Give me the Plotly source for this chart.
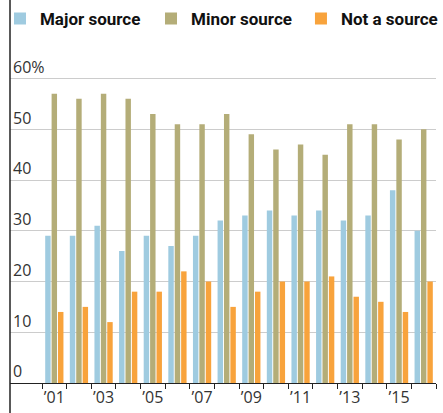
import plotly.graph_objects as go

years = [str(y) for y in range(2001, 2017)]
tick_labels = ["\u201901", "", "\u201903", "", "\u201905", "", "\u201907", "",
               "\u201909", "", "\u201911", "", "\u201913", "", "\u201915", ""]
major = [29, 29, 31, 26, 29, 27, 29, 32, 33, 34, 33, 34, 32, 33, 38, 30]
minor = [57, 56, 57, 56, 53, 51, 51, 53, 49, 46, 47, 45, 51, 51, 48, 50]
not_source = [14, 15, 12, 18, 18, 22, 20, 15, 18, 20, 20, 21, 17, 16, 14, 20]
y_ticks = [0, 10, 20, 30, 40, 50, 60]
y_tick_text = ["0", "10", "20", "30", "40", "50", "60%"]

series = [
    ("Major source", major, "#9fcbe0", "legend"),
    ("Minor source", minor, "#b4ad78", "legend2"),
    ("Not a source", not_source, "#f8a33c", "legend3"),
]

fig = go.Figure()
for name, vals, color, lg in series:
    fig.add_trace(go.Bar(x=years, y=vals, name=name, marker_color=color,
                         marker_line_width=0, legend=lg))

legend_font = dict(family="Roboto", size=17, color="#111111", weight=700)


def make_legend(xpos):
    return dict(orientation="h", x=xpos, xanchor="left", y=1.19, yanchor="middle",
                font=legend_font, bgcolor="rgba(0,0,0,0)")


fig.update_layout(
    width=443, height=413,
    margin=dict(l=10, r=7, t=77, b=30, autoexpand=False),
    paper_bgcolor="white", plot_bgcolor="white",
    barmode="group", bargap=0.22, bargroupgap=0.15,
    font=dict(family="Open Sans", size=15, color="#333333"),
    showlegend=True,
    legend=make_legend(-0.0235),
    legend2=make_legend(0.331),
    legend3=make_legend(0.683),
    xaxis=dict(
        type="category", tickmode="array", tickvals=years, ticktext=tick_labels,
        tickson="boundaries", ticks="outside", ticklen=5, tickcolor="#222222",
        showline=True, linecolor="#222222", linewidth=1, tickangle=0,
        showgrid=False, range=[-1.8, 15.5], automargin=False,
        tickfont=dict(family="Open Sans", size=16, color="#333333"),
    ),
    yaxis=dict(
        range=[0, 60.3], tickmode="array", tickvals=y_ticks, ticktext=y_tick_text,
        ticklabelposition="inside top", ticklabeloverflow="allow",
        ticks="", automargin=False,
        showgrid=True, gridcolor="#cccccc", gridwidth=1,
        zeroline=False, showline=False,
        tickfont=dict(family="Open Sans", size=16, color="#333333"),
    ),
    shapes=[dict(type="line", xref="paper", yref="paper", x0=0, x1=0,
                 y0=-0.1, y1=1.26, line=dict(color="#222222", width=1.5))],
)

fig.write_html("out.html", config={"displayModeBar": False},
               post_script="document.body.style.margin='0';")
